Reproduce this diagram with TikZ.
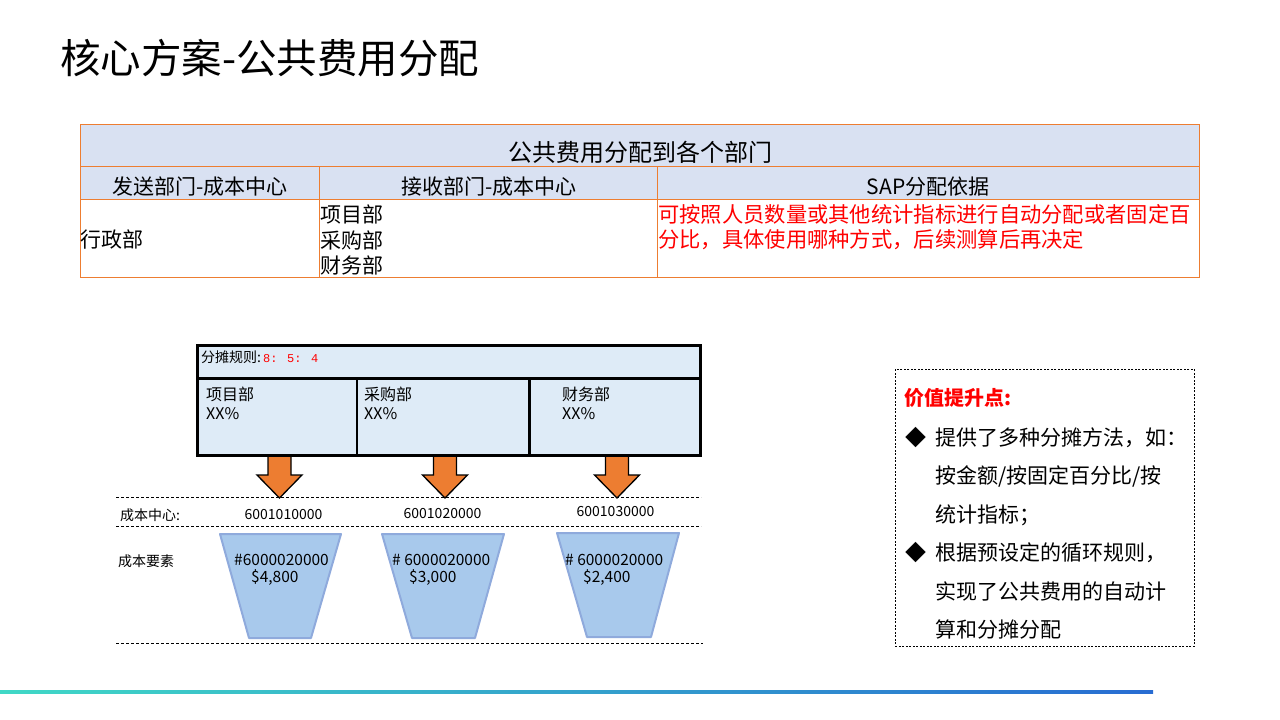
\documentclass[tikz,border=0pt]{standalone}
\usepackage{fontspec}
\setmainfont{Noto Sans CJK SC}
\newfontfamily\monofont{Liberation Mono}
\usetikzlibrary{positioning, calc}
\definecolor{tableline}{RGB}{237,125,49}
\definecolor{headfill}{RGB}{217,225,242}
\definecolor{rulefill}{RGB}{222,235,247}
\definecolor{arrowfill}{RGB}{237,125,49}
\definecolor{funnelfill}{RGB}{168,201,236}
\definecolor{funnelline}{RGB}{143,170,220}
\definecolor{notered}{RGB}{255,0,0}
\definecolor{barleft}{RGB}{64,216,198}
\definecolor{barright}{RGB}{40,108,210}
\tikzset{
    cell/.style={rectangle, draw=tableline, line width=1pt, inner sep=0pt, outer sep=0pt},
    txt/.style={inner sep=0pt, anchor=west, align=left},
    rowline/.style={dashed, dash pattern=on 3pt off 2pt, line width=0.8pt},
    funnel/.style={fill=funnelfill, draw=funnelline, line width=2pt, line join=round},
    bigarrow/.style={fill=arrowfill, draw=black, line width=1.3pt, line join=miter}
}
\newcommand{\fsz}[2]{\fontsize{#1}{#2}\selectfont}
\newcommand{\allocarrow}[1]{% down block arrow centred at x=#1
    \draw[bigarrow] (#1-11.5,455) -- (#1+11.5,455) -- (#1+11.5,475) -- (#1+22.5,475)
        -- (#1,498) -- (#1-22.5,475) -- (#1-11.5,475) -- cycle;}

\begin{document}
\begin{tikzpicture}[x=1pt, y=-1pt]

    \fill[white] (0,0) rectangle (1280,720);
    \useasboundingbox (0,0) rectangle (1280,720);

    \node[txt, font=\fsz{40.5}{48}] (title) at (60,58) {核心方案-公共费用分配};

    % table
    \node[cell, fill=headfill, minimum width=1119pt, minimum height=42pt, anchor=north west] (tabtitle) at (80,124) {};
    \node[cell, fill=headfill, minimum width=239pt, minimum height=33pt, anchor=north west] (hdsend) at (80,166) {};
    \node[cell, fill=headfill, minimum width=338pt, minimum height=33pt, right=0pt of hdsend] (hdrecv) {};
    \node[cell, fill=headfill, minimum width=542pt, minimum height=33pt, right=0pt of hdrecv] (hdbasis) {};
    \node[cell, minimum width=239pt, minimum height=78pt, below=0pt of hdsend] (bdsend) {};
    \node[cell, minimum width=338pt, minimum height=78pt, below=0pt of hdrecv] (bdrecv) {};
    \node[cell, minimum width=542pt, minimum height=78pt, below=0pt of hdbasis] (bdbasis) {};

    \node[font=\fsz{24}{28}] (tabtitletext) at (640,152) {公共费用分配到各个部门};
    \node[font=\fsz{21}{25}] (hdsendtext) at (200,187) {发送部门-成本中心};
    \node[font=\fsz{21}{25}] (hdrecvtext) at (489,187) {接收部门-成本中心};
    \node[font=\fsz{21}{25}] (hdbasistext) at (928,187) {SAP分配依据};
    \node[txt, font=\fsz{21}{25.5}] (bdsendtext) at (80,240) {行政部};
    \node[txt, font=\fsz{21}{25.5}] (bdrecvtext) at (320,240) {项目部\\采购部\\财务部};
    \node[txt, font=\fsz{21.3}{25.5}, text=notered] (bdbasistext) at (658,227)
        {可按照人员数量或其他统计指标进行自动分配或者固定百\\分比，具体使用哪种方式，后续测算后再决定};

    % allocation rule
    \allocarrow{279.5}
    \allocarrow{445}
    \allocarrow{617}
    \node[draw, line width=3pt, fill=rulefill, minimum width=503pt, minimum height=110.5pt,
        anchor=north west, inner sep=0pt, outer sep=0pt] (rulebox) at (197.5,345) {};
    \draw[line width=3pt] (197.5,378) -- (700.5,378);
    \draw[line width=2.5pt] (357,378) -- (357,455);
    \draw[line width=2.5pt] (529.5,378) -- (529.5,455);

    \node[txt, font=\fsz{14}{17}] (ruletext) at (201,357) {分摊规则:\hspace{2pt}{\monofont\fsz{12}{15}\color{notered}8: 5: 4}};
    \node[txt, font=\fsz{16}{19}] (deptA) at (206,403.5) {项目部\\XX\%};
    \node[txt, font=\fsz{16}{19}] (deptB) at (364,403.5) {采购部\\XX\%};
    \node[txt, font=\fsz{16}{19}] (deptC) at (562,403.5) {财务部\\XX\%};

    \draw[rowline] (116,497) -- (701,497);
    \draw[rowline] (116,526) -- (701,526);
    \draw[rowline] (116,643) -- (703,643);

    \node[txt, font=\fsz{14}{17}] (cclabel) at (120,515) {成本中心:};
    \node[font=\fsz{14}{17}] (ccA) at (283.5,515) {6001010000};
    \node[font=\fsz{14}{17}] (ccB) at (442.5,514) {6001020000};
    \node[font=\fsz{14}{17}] (ccC) at (615.5,512) {6001030000};
    \node[txt, font=\fsz{14}{17}] (celabel) at (118,561) {成本要素};

    \draw[funnel] (220,534) -- (341,534) -- (311,638) -- (249,638) -- cycle;
    \draw[funnel] (382,534) -- (504,534) -- (475,638) -- (412,638) -- cycle;
    \draw[funnel] (557,533) -- (679,533) -- (651,637) -- (587,637) -- cycle;

    \node[txt, font=\fsz{15.5}{17}] (ceA) at (234,569.5) {\#6000020000\\\hspace*{17pt}\$4,800};
    \node[txt, font=\fsz{15.5}{17}] (ceB) at (392,569.5) {\# 6000020000\\\hspace*{17pt}\$3,000};
    \node[txt, font=\fsz{15.5}{17}] (ceC) at (565,569.5) {\# 6000020000\\\hspace*{18pt}\$2,400};

    % value box
    \node[draw, dashed, dash pattern=on 2pt off 1.5pt, line width=0.8pt, minimum width=299pt,
        minimum height=277pt, anchor=north west, inner sep=0pt] (valuebox) at (895,369) {};
    \node[txt, font=\fsz{20}{24}\bfseries, text=notered] (valuetitle) at (904,398) {价值提升点:};
    \node[txt, font=\fsz{21}{38.5}] (valuelist) at (905,533.5)
        {\makebox[30pt][l]{◆}提供了多种分摊方法，如：\\
         \hspace*{30pt}按金额/按固定百分比/按\\
         \hspace*{30pt}统计指标；\\
         \makebox[30pt][l]{◆}根据预设定的循环规则，\\
         \hspace*{30pt}实现了公共费用的自动计\\
         \hspace*{30pt}算和分摊分配};

    \shade[left color=barleft, right color=barright] (0,690.5) rectangle (1153,693.5);

\end{tikzpicture}
\end{document}
